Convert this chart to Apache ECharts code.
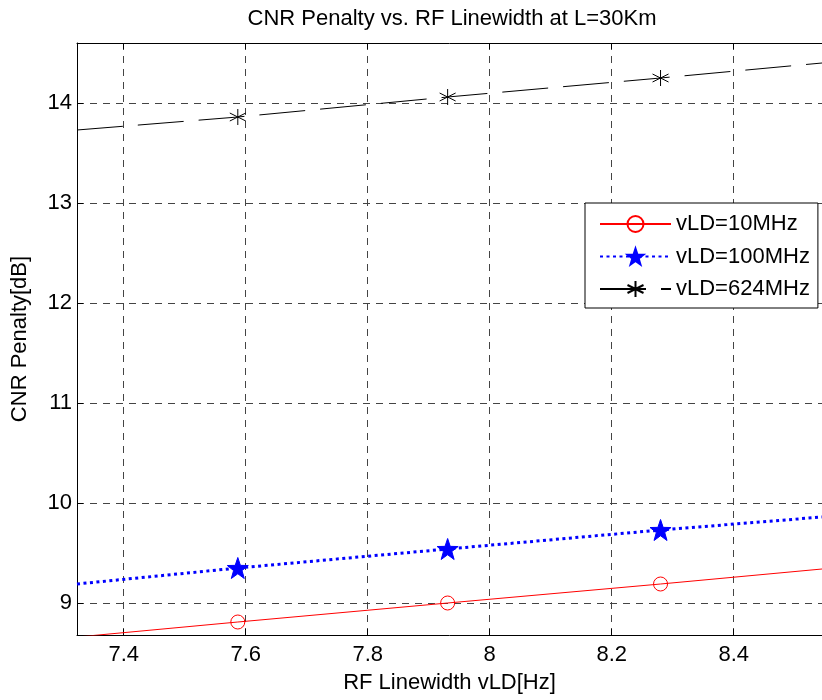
<!DOCTYPE html>
<html>
<head>
<meta charset="utf-8">
<script src="https://cdn.jsdelivr.net/npm/echarts@6/dist/echarts.min.js"></script>
<style>html,body{margin:0;padding:0;background:#fff}#c{width:822px;height:700px}</style>
</head>
<body>
<div id="c"></div>
<script>
const xValues = [7.3234, 7.587, 7.931, 8.280, 8.5447];
const markerShown = [false, true, true, true, false];
const seriesNames = ['vLD=10MHz', 'vLD=100MHz', 'vLD=624MHz'];
const red10 = [8.66, 8.81, 9.00, 9.19, 9.34];
const blue100 = [9.19, 9.35, 9.54, 9.73, 9.86];
const black624 = [13.73, 13.86, 14.06, 14.25, 14.40];

const FONT = 'Liberation Sans, Arial, sans-serif';
const STAR = 'path://M0,-10L2.35,-3.24L9.51,-3.09L3.8,1.24L5.88,8.09L0,4L-5.88,8.09L-3.8,1.24L-9.51,-3.09L-2.35,-3.24Z';
const AST = 'path://M0,-10L0,10M-8.66,-5L8.66,5M-8.66,5L8.66,-5';

function pts(vals) {
  return xValues.map((x, i) => markerShown[i]
    ? { value: [x, vals[i]] }
    : { value: [x, vals[i]], symbol: 'none' });
}

const chart = echarts.init(document.getElementById('c'), null, { renderer: 'canvas' });
const gridLine = { show: true, lineStyle: { color: '#444', type: [7, 6], width: 1 } };
chart.setOption({
  animation: false,
  backgroundColor: '#fff',
  textStyle: { fontFamily: FONT },
  title: {
    text: 'CNR Penalty vs. RF Linewidth at L=30Km',
    left: 447, top: 3, textAlign: 'center',
    textStyle: { fontSize: 22, fontWeight: 'normal', color: '#000', fontFamily: FONT }
  },
  grid: { left: 77, top: 43, right: 0, bottom: 65 },
  legend: {
    left: 585, top: 203, orient: 'vertical',
    itemWidth: 71, itemHeight: 20, itemGap: 10.5,
    padding: [10, 8, 8, 14],
    backgroundColor: '#fff', borderColor: '#000', borderWidth: 1,
    textStyle: { fontSize: 22, color: '#000', fontFamily: FONT },
    data: seriesNames
  },
  xAxis: [{
    type: 'value', min: 7.3234, max: 8.5447,
    minInterval: 0.2, maxInterval: 0.2,
    name: 'RF Linewidth vLD[Hz]', nameLocation: 'middle', nameGap: 37,
    nameTextStyle: { fontSize: 22, color: '#000' },
    axisLine: { show: true, onZero: false, lineStyle: { color: '#000', width: 1 } },
    axisTick: { show: true, inside: true, length: 6, lineStyle: { color: '#000' } },
    axisLabel: { fontSize: 22, color: '#000', margin: 9, showMinLabel: false, showMaxLabel: false },
    splitLine: gridLine
  }, {
    type: 'value', position: 'top', min: 7.3234, max: 8.5447,
    minInterval: 0.2, maxInterval: 0.2,
    axisLine: { show: true, onZero: false, lineStyle: { color: '#000', width: 1 } },
    axisTick: { show: true, inside: true, length: 6, lineStyle: { color: '#000' } },
    axisLabel: { show: false }, splitLine: { show: false }
  }],
  yAxis: [{
    type: 'value', min: 8.68, max: 14.6,
    minInterval: 1, maxInterval: 1,
    name: 'CNR Penalty[dB]', nameLocation: 'middle', nameGap: 46,
    nameTextStyle: { fontSize: 22, color: '#000' },
    axisLine: { show: true, onZero: false, lineStyle: { color: '#000', width: 1 } },
    axisTick: { show: true, inside: true, length: 6, lineStyle: { color: '#000' } },
    axisLabel: { fontSize: 22, color: '#000', margin: 5, showMinLabel: false, showMaxLabel: false },
    splitLine: gridLine
  }],
  series: [{
    name: seriesNames[0], type: 'line', data: pts(red10),
    symbol: 'circle', symbolSize: 14, showAllSymbol: true,
    lineStyle: { color: '#ff0000', width: 1 },
    itemStyle: { color: 'rgba(0,0,0,0)', borderColor: '#ff0000', borderWidth: 1 },
    z: 3
  }, {
    name: seriesNames[1], type: 'line', data: pts(blue100),
    symbol: STAR, symbolSize: 21, showAllSymbol: true,
    lineStyle: { color: '#0000ff', width: 3, type: [3, 3.5], cap: 'butt' },
    itemStyle: { color: '#0000ff', borderColor: '#0000ff', borderWidth: 1 },
    z: 3
  }, {
    name: seriesNames[2], type: 'line', data: pts(black624),
    symbol: AST, symbolSize: 16, showAllSymbol: true,
    lineStyle: { color: '#000', width: 1, type: [46, 15] },
    itemStyle: { color: 'rgba(0,0,0,0)', borderColor: '#000', borderWidth: 1 },
    z: 3
  }]
});
</script>
</body>
</html>
